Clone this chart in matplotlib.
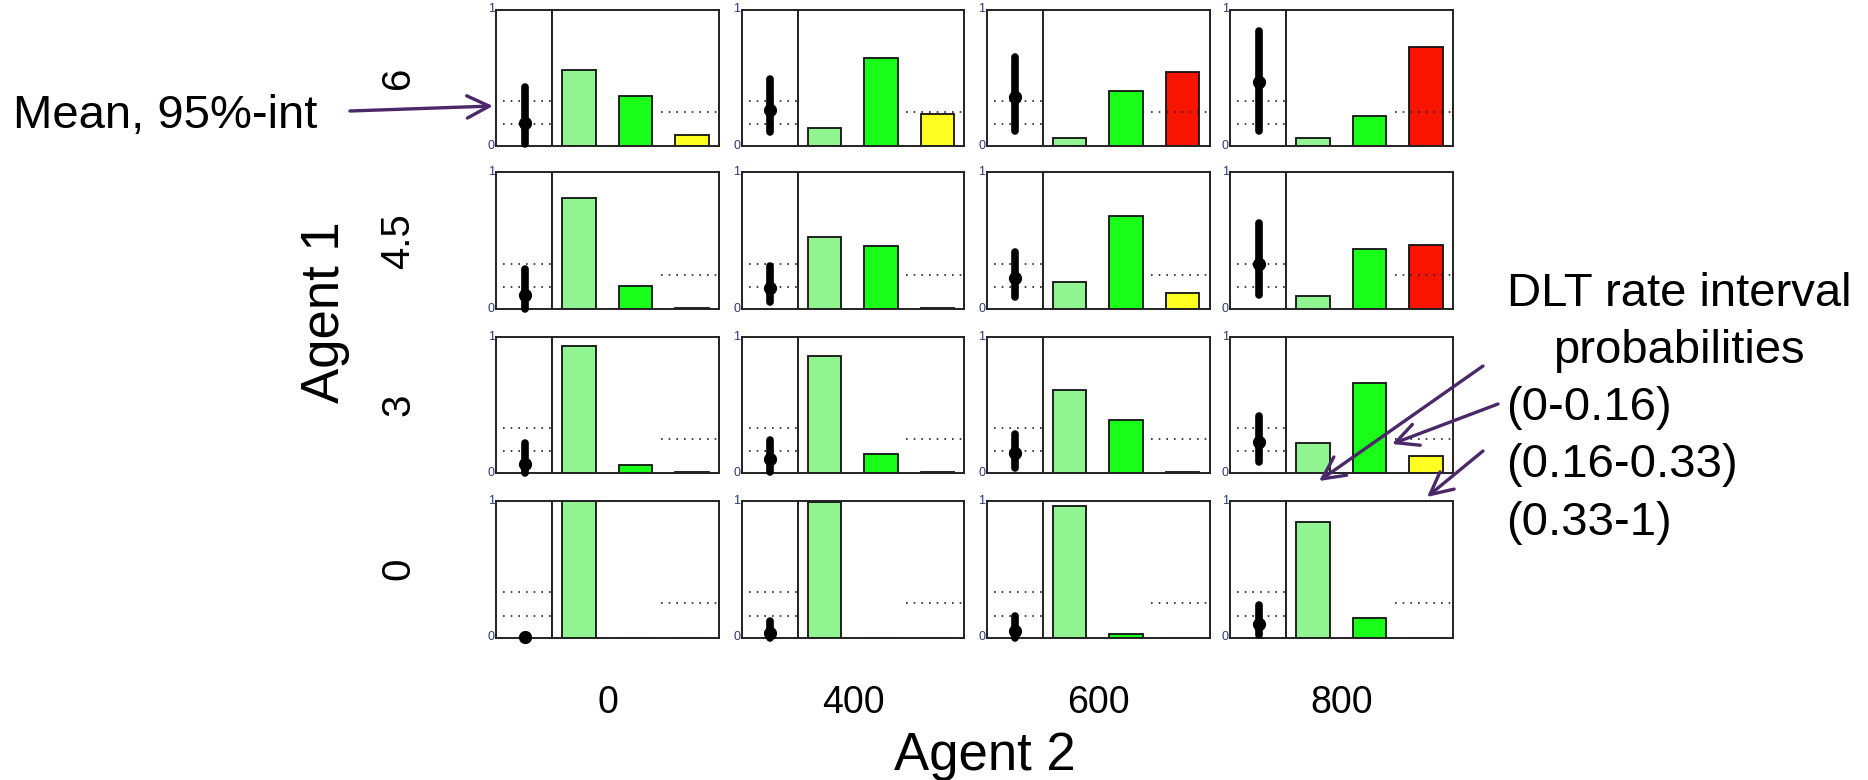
import matplotlib
matplotlib.use("Agg")
import matplotlib.pyplot as plt
from matplotlib.patches import FancyArrowPatch

plt.rcParams['font.family'] = ['Liberation Sans', 'DejaVu Sans']

# ---------------- data ----------------
agent1_levels = ["6", "4.5", "3", "0"]          # rows, top to bottom
agent2_levels = ["0", "400", "600", "800"]      # columns, left to right

# posterior probability of DLT rate in (0-0.16), (0.16-0.33), (0.33-1)
p_under = [[0.56, 0.13, 0.06, 0.056],
           [0.81, 0.53, 0.196, 0.092],
           [0.928, 0.856, 0.609, 0.223],
           [1.0, 0.99, 0.963, 0.843]]
p_target = [[0.367, 0.643, 0.40, 0.222],
            [0.165, 0.458, 0.68, 0.436],
            [0.06, 0.141, 0.389, 0.657],
            [0.0, 0.0, 0.022, 0.14]]
p_over = [[0.08, 0.235, 0.54, 0.724],
          [0.008, 0.008, 0.114, 0.47],
          [0.008, 0.008, 0.008, 0.127],
          [0.0, 0.0, 0.0, 0.0]]

# posterior DLT rate: mean and 95% interval
dlt_mean = [[0.169, 0.267, 0.357, 0.469],
            [0.10, 0.157, 0.228, 0.33],
            [0.065, 0.10, 0.149, 0.228],
            [0.003, 0.03, 0.049, 0.098]]
dlt_low = [[0.012, 0.10, 0.11, 0.108],
           [0.0, 0.05, 0.085, 0.10],
           [0.0, 0.01, 0.04, 0.08],
           [0.0, 0.0, 0.0, 0.02]]
dlt_high = [[0.433, 0.49, 0.653, 0.843],
            [0.295, 0.315, 0.416, 0.63],
            [0.223, 0.245, 0.283, 0.42],
            [0.01, 0.122, 0.16, 0.235]]

interval_bounds = [0.16, 0.33]
ewoc_threshold = 0.25

# ---------------- layout ----------------
W, H = 1868, 780
fig = plt.figure(figsize=(W / 100, H / 100), dpi=100)

col_left = [496, 741.5, 986.5, 1230]
row_top = [9.5, 172.5, 336.5, 501]
panel_w, panel_h, left_w = 223, 136.5, 56

def rect(x0, y0, w, h):
    return [x0 / W, 1 - (y0 + h) / H, w / W, h / H]

def fx(x):
    return x / W

def fy(y):
    return 1 - y / H

edge = '#222222'
c_under, c_target, c_yellow, c_red = '#90f490', '#1aff1a', '#ffff22', '#f91400'
dot_style = dict(color='#222222', lw=1.2, linestyle=(0, (1, 3.6)))

for r in range(4):
    for c in range(4):
        x0, y0 = col_left[c], row_top[r]
        axl = fig.add_axes(rect(x0, y0, left_w, panel_h))
        axr = fig.add_axes(rect(x0 + left_w, y0, panel_w - left_w, panel_h))
        for ax in (axl, axr):
            ax.set_ylim(0, 1)
            ax.set_xticks([])
            ax.set_yticks([])
            for s in ax.spines.values():
                s.set_linewidth(1.4)
                s.set_color(edge)
        # left: mean and 95% interval
        axl.set_xlim(0, 1)
        for b in interval_bounds:
            axl.plot([0.13, 1.0], [b, b], **dot_style)
        axl.plot([0.51, 0.51], [dlt_low[r][c], dlt_high[r][c]], color='black',
                 lw=5.5, solid_capstyle='round', clip_on=False, zorder=3)
        axl.plot([0.51], [dlt_mean[r][c]], 'o', color='black', ms=8.5,
                 clip_on=False, zorder=4)
        axl.text(-0.02, 1, '1', transform=axl.transAxes, ha='right', va='center',
                 fontsize=9, color='#2a3a7a')
        axl.text(-0.02, 0, '0', transform=axl.transAxes, ha='right', va='center',
                 fontsize=9, color='#2a3a7a')
        # right: interval probabilities
        axr.set_xlim(0.5185, 3.4815)
        third = p_over[r][c]
        cols = [c_under, c_target, c_red if third > ewoc_threshold else c_yellow]
        axr.bar([1, 2, 3], [p_under[r][c], p_target[r][c], third], width=0.591,
                color=cols, edgecolor='#111111', linewidth=1.3, zorder=2)
        axr.plot([2.45, 3.4815], [ewoc_threshold, ewoc_threshold], zorder=3, **dot_style)

# row / column labels
for r, lab in enumerate(agent1_levels):
    fig.text(fx(398), fy(row_top[r] + panel_h / 2), lab, rotation=90,
             ha='center', va='center', fontsize=29)
for c, lab in enumerate(agent2_levels):
    fig.text(fx(col_left[c] + panel_w / 2), fy(713), lab, ha='center',
             va='baseline', fontsize=27)
fig.text(fx(325), fy(312), 'Agent 1', rotation=90, ha='center', va='center', fontsize=38)
fig.text(fx(985), fy(770), 'Agent 2', ha='center', va='baseline', fontsize=38)

# annotations
fig.text(fx(13), fy(128), 'Mean, 95%-int', ha='left', va='baseline', fontsize=34)
fig.text(fx(1679), fy(306), 'DLT rate interval', ha='center', va='baseline', fontsize=34)
fig.text(fx(1679), fy(363), 'probabilities', ha='center', va='baseline', fontsize=34)
fig.text(fx(1506), fy(420), '(0-0.16)', ha='left', va='baseline', fontsize=34)
fig.text(fx(1506), fy(477), '(0.16-0.33)', ha='left', va='baseline', fontsize=34)
fig.text(fx(1506), fy(535), '(0.33-1)', ha='left', va='baseline', fontsize=34)

purple = '#4a2869'
arrows = [((350, 111), (493, 106)),
          ((1483, 366), (1319, 481)),
          ((1498, 404), (1392, 444)),
          ((1483, 451), (1427, 497))]
for (xa, ya), (xb, yb) in arrows:
    fig.add_artist(FancyArrowPatch((fx(xa), fy(ya)), (fx(xb), fy(yb)),
                                   transform=fig.transFigure,
                                   arrowstyle='->,head_length=0.8,head_width=0.4',
                                   mutation_scale=20, color=purple, lw=2.4,
                                   shrinkA=0, shrinkB=0))

fig.savefig('out.png', dpi=100)
